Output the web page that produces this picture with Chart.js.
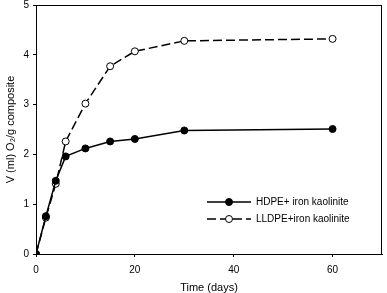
<!DOCTYPE html>
<html>
<head>
<meta charset="utf-8">
<script src="https://cdn.jsdelivr.net/npm/chart.js@4.4.1/dist/chart.umd.min.js"></script>
<style>
  html, body { margin: 0; padding: 0; background: #fff; }
  #wrap { width: 387px; height: 293px; position: relative; }
</style>
</head>
<body>
<div id="wrap"><canvas id="c"></canvas></div>
<script>
// O2 uptake of iron-kaolinite composites over time

const days        = [0, 2, 4, 6, 10, 15, 20, 30, 60];
const hdpeValues  = [0, 0.76, 1.47, 1.96, 2.12, 2.26, 2.31, 2.48, 2.51];
const lldpeValues = [0, 0.73, 1.41, 2.26, 3.02, 3.77, 4.07, 4.28, 4.32];
const seriesLabels = ['HDPE+ iron kaolinite', 'LLDPE+iron kaolinite'];
const xTicks = [0, 20, 40, 60];
const yTicks = [0, 1, 2, 3, 4, 5];

const FONT = 'Arial, "Liberation Sans", sans-serif';

function pts(vals) {
  return days.map((d, i) => ({ x: d, y: vals[i] }));
}

// frame round the plot area + the legend in its lower right
const framePlugin = {
  id: 'frame',
  afterDraw(chart) {
    const { ctx, chartArea: a } = chart;
    ctx.save();
    ctx.strokeStyle = '#000';
    ctx.lineWidth = 1;
    ctx.strokeRect(a.left + 0.5, a.top + 0.5, a.right - a.left - 1, a.bottom - a.top);

    // legend
    const x0 = 207, x1 = 251, xm = 229;
    const rows = [
      { y: 202, dash: [], fill: '#000' },
      { y: 219, dash: [9, 4], fill: '#fff' }
    ];
    rows.forEach((r, i) => {
      ctx.setLineDash(r.dash);
      ctx.lineWidth = 1.5;
      ctx.beginPath();
      ctx.moveTo(x0, r.y);
      ctx.lineTo(x1, r.y);
      ctx.stroke();
      ctx.setLineDash([]);
      ctx.beginPath();
      ctx.arc(xm, r.y, 3.5, 0, Math.PI * 2);
      ctx.fillStyle = r.fill;
      ctx.fill();
      ctx.lineWidth = 1;
      ctx.stroke();
      ctx.fillStyle = '#000';
      ctx.font = '10px ' + FONT;
      ctx.textBaseline = 'middle';
      ctx.fillText(seriesLabels[i], 256, r.y);
    });
    ctx.restore();
  }
};

new Chart(document.getElementById('c'), {
  type: 'line',
  data: {
    datasets: [
      {
        label: seriesLabels[0],
        data: pts(hdpeValues),
        borderColor: '#000',
        borderWidth: 1.5,
        pointRadius: 3.5,
        pointBackgroundColor: '#000',
        pointBorderColor: '#000',
        pointBorderWidth: 1,
        tension: 0
      },
      {
        label: seriesLabels[1],
        data: pts(lldpeValues),
        borderColor: '#000',
        borderWidth: 1.5,
        borderDash: [9, 4],
        pointRadius: 3.5,
        pointBackgroundColor: '#fff',
        pointBorderColor: '#000',
        pointBorderWidth: 1,
        tension: 0
      }
    ]
  },
  options: {
    responsive: true,
    maintainAspectRatio: false,
    animation: false,
    layout: { padding: { left: 0, right: 2, top: 2, bottom: 0 } },
    plugins: { legend: { display: false }, tooltip: { enabled: false } },
    scales: {
      x: {
        type: 'linear',
        min: 0,
        max: 70,
        afterBuildTicks(s) { s.ticks = xTicks.map(v => ({ value: v })); },
        afterFit(s) { s.height = 39; s.paddingLeft = 0; s.paddingRight = 0; },
        grid: { drawOnChartArea: false, tickLength: 3, color: '#000' },
        border: { color: '#000' },
        ticks: { color: '#000', font: { family: FONT, size: 10 }, padding: 7 },
        title: { display: true, text: 'Time (days)', color: '#000', font: { family: FONT, size: 11 }, padding: { top: 0, bottom: -2 } }
      },
      y: {
        type: 'linear',
        min: 0,
        max: 5,
        afterBuildTicks(s) { s.ticks = yTicks.map(v => ({ value: v })); },
        afterFit(s) { s.width = 36; s.paddingTop = 0; s.paddingBottom = 0; },
        grid: { drawOnChartArea: false, tickLength: 3, color: '#000' },
        border: { color: '#000' },
        ticks: { color: '#000', font: { family: FONT, size: 10 }, padding: 4 },
        title: { display: true, text: 'V (ml) O\u2082/g composite', color: '#000', font: { family: FONT, size: 11 }, padding: { bottom: 0 } }
      }
    }
  },
  plugins: [framePlugin]
});
</script>
</body>
</html>
